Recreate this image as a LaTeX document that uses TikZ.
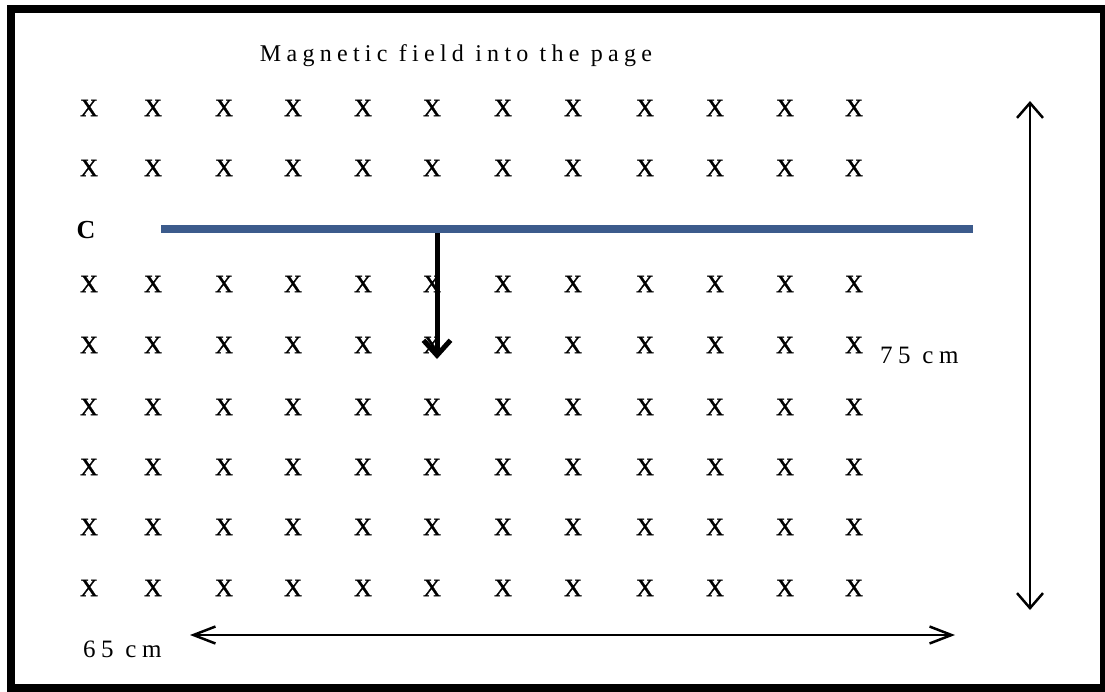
\documentclass[tikz,border=0pt]{standalone}
\usepackage{fontspec}
\setmainfont{Liberation Serif}
\newfontfamily\spacedfont[LetterSpace=22]{Liberation Serif}
\newfontfamily\crossfont[FakeBold=1]{Liberation Serif}
\usetikzlibrary{arrows.meta}
\definecolor{barblue}{RGB}{60,91,140}

\begin{document}
\begin{tikzpicture}[x=1pt,y=-1pt,every node/.style={inner sep=0pt}]
  \tikzstyle{cross}=[font=\crossfont\fontsize{25}{25}\selectfont]
  \tikzstyle{label}=[font=\spacedfont\fontsize{25}{25}\selectfont]
  \tikzstyle{dimarrow}=[line width=2.5pt, {Straight Barb[length=15pt,width=26pt]}-{Straight Barb[length=15pt,width=26pt]}]
  \useasboundingbox (0,0) rectangle (1105,691);
  \draw[line width=8pt] (11,9) rectangle (1104,688);
  \node[label, font=\spacedfont\fontsize{24}{24}\selectfont, anchor=base] (title) at (456,61) {Magnetic field into the page};
  % field crosses
  \foreach \y [count=\r] in {108,168,284,345,407,467,527,588}
    \foreach \x [count=\c] in {89,153,224,293,363,432,503,573,645,715,785,854}
      \node[cross] (x\r-\c) at (\x,\y) {X};
  % rod and its motion
  \node[font=\bfseries\fontsize{26}{26}\selectfont] (rodlabel) at (86,230) {C};
  \coordinate (rodL) at (161,229);
  \coordinate (rodR) at (973,229);
  \draw[barblue, line width=8pt] (rodL) -- (rodR);
  \coordinate (rodmid) at (437,233);
  \coordinate (velo) at (437,359);
  \draw[line width=5pt, -{Straight Barb[length=15pt,width=27pt]}] (rodmid) -- (velo);
  % dimensions
  \coordinate (vtop) at (1030,101);
  \coordinate (vbot) at (1030,610);
  \draw[dimarrow] (vtop) -- (vbot);
  \node[label, anchor=base west] (height) at (880,363) {75 cm};
  \coordinate (hleft) at (190,635);
  \coordinate (hright) at (955,635);
  \draw[dimarrow, {Straight Barb[length=22pt,width=17pt]}-{Straight Barb[length=22pt,width=17pt]}] (hleft) -- (hright);
  \node[label, anchor=base west] (width) at (83,657) {65 cm};
\end{tikzpicture}
\end{document}
